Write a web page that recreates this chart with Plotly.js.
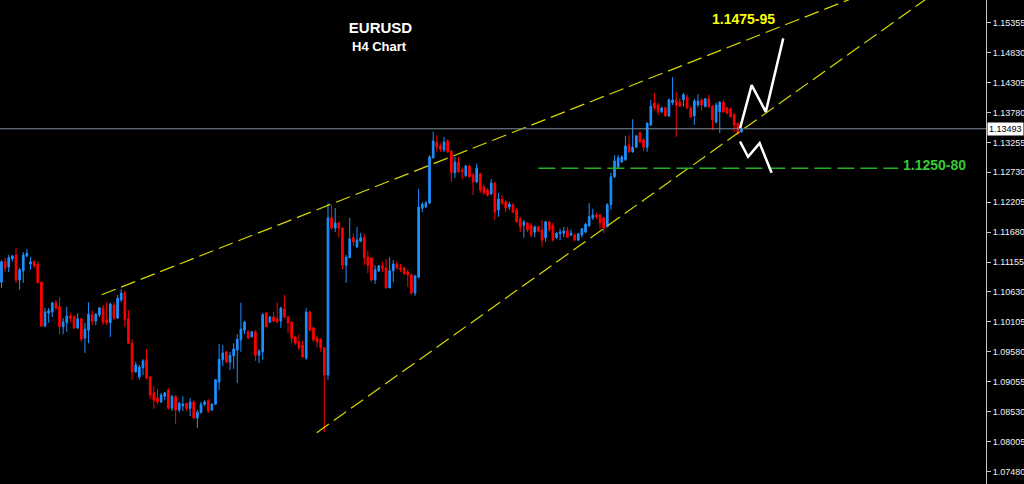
<!DOCTYPE html>
<html><head><meta charset="utf-8">
<script src="https://cdn.plot.ly/plotly-3.0.1.min.js"></script>
<style>html,body{margin:0;padding:0;background:#000;}#chart{width:1024px;height:484px;}</style>
</head><body><div id="chart"></div>
<script>
// EURUSD H4 candles
const open = [1.1080,1.1116,1.1107,1.1121,1.1128,1.1084,1.1100,1.1126,1.1112,1.1116,
1.1112,1.1080,1.1003,1.1026,1.1028,1.1044,1.1037,1.1002,1.1009,1.1021,
1.1019,1.1000,1.1016,1.0982,1.0996,1.1023,1.1012,1.1023,1.1035,1.1014,
1.1009,1.1040,1.1017,1.1049,1.1061,1.1016,1.0973,1.0923,1.0914,1.0930,
1.0944,1.0914,1.0886,1.0877,1.0870,1.0880,1.0891,1.0859,1.0879,1.0856,
1.0863,1.0868,1.0859,1.0870,1.0842,1.0851,1.0866,1.0872,1.0856,1.0866,
1.0905,1.0944,1.0958,1.0940,1.0951,1.0961,1.0979,1.0996,1.0993,1.0984,
1.0993,1.0952,1.0958,1.1026,1.1010,1.1019,1.1016,1.1012,1.1033,1.1019,
1.1010,1.0984,1.0975,1.0970,1.0947,1.1028,1.1000,1.0982,1.0980,1.0965,
1.0917,1.1193,1.1175,1.1184,1.1175,1.1110,1.1123,1.1158,1.1142,1.1152,
1.1158,1.1124,1.1123,1.1084,1.1100,1.1109,1.1105,1.1070,1.1100,1.1112,
1.1105,1.1105,1.1098,1.1093,1.1061,1.1089,1.1210,1.1212,1.1219,1.1298,
1.1326,1.1319,1.1312,1.1328,1.1310,1.1272,1.1291,1.1277,1.1267,1.1284,
1.1268,1.1256,1.1270,1.1247,1.1242,1.1235,1.1254,1.1207,1.1226,1.1221,
1.1212,1.1216,1.1207,1.1191,1.1180,1.1184,1.1180,1.1168,1.1177,1.1172,
1.1158,1.1186,1.1180,1.1158,1.1166,1.1166,1.1170,1.1163,1.1163,1.1154,
1.1163,1.1168,1.1179,1.1193,1.1198,1.1198,1.1193,1.1177,1.1216,1.1265,
1.1282,1.1291,1.1295,1.1321,1.1309,1.1317,1.1342,1.1330,1.1317,1.1356,
1.1395,1.1391,1.1379,1.1386,1.1372,1.1395,1.1400,1.1396,1.1400,1.1405,
1.1386,1.1372,1.1391,1.1400,1.1388,1.1402,1.1389,1.1361,1.1379,1.1396,
1.1386,1.1384,1.1374,1.1359,1.1344];
const high = [1.1119,1.1123,1.1128,1.1128,1.1140,1.1105,1.1133,1.1138,1.1124,1.1119,
1.1117,1.1080,1.1035,1.1035,1.1045,1.1049,1.1054,1.1017,1.1037,1.1026,
1.1023,1.1026,1.1017,1.1009,1.1045,1.1031,1.1026,1.1037,1.1040,1.1045,
1.1044,1.1045,1.1058,1.1068,1.1065,1.1031,1.0980,1.0940,1.0935,1.0945,
1.0963,1.0916,1.0898,1.0893,1.0886,1.0887,1.0894,1.0882,1.0882,1.0870,
1.0880,1.0868,1.0877,1.0873,1.0856,1.0870,1.0873,1.0875,1.0868,1.0910,
1.0972,1.0970,1.0959,1.0958,1.0973,1.0989,1.1044,1.1012,1.0996,1.0995,
1.0996,1.0963,1.1026,1.1028,1.1021,1.1028,1.1045,1.1037,1.1058,1.1021,
1.1012,1.0986,1.0989,1.0977,1.1035,1.1030,1.1002,1.0986,1.0982,1.0966,
1.1219,1.1216,1.1210,1.1186,1.1177,1.1128,1.1193,1.1166,1.1177,1.1166,
1.1165,1.1135,1.1123,1.1110,1.1110,1.1116,1.1121,1.1124,1.1119,1.1116,
1.1112,1.1107,1.1102,1.1095,1.1093,1.1244,1.1221,1.1223,1.1303,1.1344,
1.1338,1.1324,1.1335,1.1331,1.1312,1.1300,1.1300,1.1282,1.1286,1.1286,
1.1272,1.1288,1.1272,1.1251,1.1245,1.1261,1.1256,1.1237,1.1233,1.1224,
1.1221,1.1219,1.1210,1.1195,1.1189,1.1186,1.1184,1.1180,1.1179,1.1189,
1.1188,1.1188,1.1184,1.1168,1.1174,1.1177,1.1177,1.1172,1.1166,1.1166,
1.1175,1.1184,1.1219,1.1209,1.1202,1.1200,1.1195,1.1219,1.1272,1.1303,
1.1303,1.1303,1.1337,1.1338,1.1366,1.1338,1.1344,1.1333,1.1361,1.1400,
1.1412,1.1395,1.1388,1.1388,1.1403,1.1440,1.1414,1.1403,1.1412,1.1410,
1.1388,1.1402,1.1410,1.1403,1.1403,1.1409,1.1391,1.1395,1.1398,1.1400,
1.1388,1.1386,1.1377,1.1359,1.1351];
const low = [1.1070,1.1098,1.1098,1.1116,1.1079,1.1067,1.1079,1.1124,1.1102,1.1105,
1.1079,1.1003,1.1002,1.1009,1.1019,1.1031,1.0989,1.0989,1.0993,1.1010,
1.0998,1.0998,1.0975,1.0956,1.0973,1.1005,1.1005,1.1019,1.1005,1.1005,
1.0984,1.1014,1.1016,1.1045,1.1002,1.0972,1.0909,1.0921,1.0909,1.0917,
1.0909,1.0875,1.0858,1.0866,1.0868,1.0873,1.0858,1.0854,1.0831,1.0852,
1.0854,1.0854,1.0845,1.0840,1.0824,1.0850,1.0863,1.0851,1.0854,1.0865,
1.0891,1.0933,1.0938,1.0926,1.0928,1.0903,1.0958,1.0989,1.0980,1.0984,
1.0942,1.0938,1.0944,1.1002,1.1009,1.1010,1.1010,1.1000,1.1017,1.0991,
1.0973,1.0970,1.0961,1.0947,1.0944,1.0994,1.0975,1.0966,1.0958,1.0817,
1.0909,1.1172,1.1168,1.1159,1.1103,1.1079,1.1123,1.1144,1.1140,1.1151,
1.1110,1.1096,1.1081,1.1077,1.1098,1.1098,1.1070,1.1070,1.1080,1.1102,
1.1098,1.1093,1.1072,1.1058,1.1056,1.1087,1.1203,1.1210,1.1217,1.1298,
1.1309,1.1309,1.1309,1.1307,1.1256,1.1263,1.1272,1.1261,1.1265,1.1263,
1.1233,1.1254,1.1237,1.1233,1.1230,1.1233,1.1189,1.1195,1.1216,1.1203,
1.1207,1.1202,1.1184,1.1168,1.1158,1.1168,1.1159,1.1159,1.1168,1.1142,
1.1151,1.1168,1.1151,1.1156,1.1154,1.1159,1.1158,1.1161,1.1152,1.1152,
1.1159,1.1166,1.1177,1.1189,1.1191,1.1174,1.1166,1.1177,1.1207,1.1263,
1.1280,1.1289,1.1293,1.1307,1.1307,1.1316,1.1324,1.1310,1.1309,1.1354,
1.1382,1.1374,1.1377,1.1370,1.1370,1.1391,1.1335,1.1388,1.1388,1.1384,
1.1368,1.1356,1.1388,1.1381,1.1388,1.1386,1.1347,1.1359,1.1342,1.1377,
1.1375,1.1370,1.1344,1.1338,1.1342];
const close = [1.1116,1.1105,1.1123,1.1126,1.1084,1.1102,1.1128,1.1131,1.1116,1.1109,
1.1079,1.1003,1.1028,1.1030,1.1044,1.1035,1.1002,1.1010,1.1021,1.1017,
1.1000,1.1016,1.0980,1.0998,1.1024,1.1012,1.1024,1.1035,1.1010,1.1009,
1.1042,1.1017,1.1052,1.1061,1.1014,1.0973,1.0923,1.0935,1.0931,1.0942,
1.0912,1.0882,1.0873,1.0870,1.0882,1.0886,1.0859,1.0880,1.0856,1.0868,
1.0866,1.0859,1.0870,1.0842,1.0852,1.0866,1.0870,1.0854,1.0866,1.0909,
1.0945,1.0956,1.0940,1.0952,1.0963,1.0980,1.0998,1.1010,1.0982,1.0993,
1.0952,1.0959,1.1023,1.1002,1.1019,1.1012,1.1010,1.1035,1.1019,1.1009,
1.0982,1.0973,1.0965,1.0949,1.1028,1.0996,1.0979,1.0975,1.0965,1.0917,
1.1193,1.1175,1.1184,1.1175,1.1110,1.1124,1.1156,1.1151,1.1154,1.1158,
1.1123,1.1110,1.1084,1.1102,1.1109,1.1105,1.1070,1.1100,1.1112,1.1105,
1.1102,1.1095,1.1093,1.1061,1.1091,1.1212,1.1217,1.1219,1.1300,1.1328,
1.1317,1.1314,1.1326,1.1309,1.1272,1.1291,1.1274,1.1274,1.1284,1.1265,
1.1256,1.1280,1.1242,1.1237,1.1233,1.1254,1.1203,1.1226,1.1219,1.1210,
1.1217,1.1203,1.1186,1.1177,1.1186,1.1172,1.1163,1.1177,1.1170,1.1154,
1.1186,1.1172,1.1154,1.1166,1.1168,1.1170,1.1159,1.1166,1.1154,1.1165,
1.1174,1.1182,1.1195,1.1198,1.1195,1.1184,1.1175,1.1216,1.1265,1.1293,
1.1298,1.1300,1.1319,1.1309,1.1317,1.1337,1.1326,1.1317,1.1359,1.1389,
1.1386,1.1379,1.1386,1.1372,1.1400,1.1400,1.1391,1.1389,1.1409,1.1386,
1.1370,1.1398,1.1398,1.1391,1.1402,1.1388,1.1365,1.1391,1.1396,1.1379,
1.1377,1.1370,1.1356,1.1342,1.13493];

// price scale tick labels
const priceTicks = [1.07480,1.08005,1.08530,1.09055,1.09580,1.10105,1.10630,1.11155,
  1.11680,1.12205,1.12730,1.13255,1.13780,1.14305,1.14830,1.15355];
const lastPrice = 1.13493;

// drawn objects (bar index, price)
const upperTrendX = [27.6, 240];
const upperTrendY = [1.1058, 1.1592];
const lowerTrendX = [86.9, 260];
const lowerTrendY = [1.0816, 1.1600];
const targetLevelX = [148.0, 247.2];
const targetLevelY = [1.1280, 1.1280];
const upPathX = [203.6, 206.8, 210.7, 215.5];
const upPathY = [1.1350, 1.1426, 1.1379, 1.1508];
const downPathX = [203.6, 205.8, 209.0, 212.3];
const downPathY = [1.1327, 1.1300, 1.1324, 1.1272];
const upLabel = {text: '1.1475-95', x: 204.5, y: 1.15425};
const downLabel = {text: '1.1250-80', x: 257.1, y: 1.12858};

const bars = open.map((_, i) => i);

const traces = [
  {type: 'candlestick', x: bars, open: open, high: high, low: low, close: close,
   increasing: {line: {color: '#1E90FF', width: 1}, fillcolor: '#1E90FF'},
   decreasing: {line: {color: '#FF0000', width: 1}, fillcolor: '#FF0000'},
   whiskerwidth: 0, showlegend: false, hoverinfo: 'skip'},
  {type: 'scatter', mode: 'lines', x: upperTrendX, y: upperTrendY,
   line: {color: '#d8d800', width: 1.2, dash: '15px,6px'}, showlegend: false, hoverinfo: 'skip'},
  {type: 'scatter', mode: 'lines', x: lowerTrendX, y: lowerTrendY,
   line: {color: '#d8d800', width: 1.2, dash: '15px,6px'}, showlegend: false, hoverinfo: 'skip'},
  {type: 'scatter', mode: 'lines', x: targetLevelX, y: targetLevelY,
   line: {color: '#22b022', width: 1.5, dash: '17px,6px'}, showlegend: false, hoverinfo: 'skip'},
  {type: 'scatter', mode: 'lines', x: upPathX, y: upPathY,
   line: {color: '#ffffff', width: 2.5}, showlegend: false, hoverinfo: 'skip'},
  {type: 'scatter', mode: 'lines', x: downPathX, y: downPathY,
   line: {color: '#ffffff', width: 2.5}, showlegend: false, hoverinfo: 'skip'}
];

const layout = {
  width: 1024, height: 484,
  paper_bgcolor: '#000000', plot_bgcolor: '#000000',
  margin: {l: 0, r: 38, t: 0, b: 0, pad: 0},
  showlegend: false,
  boxgap: 0.35,
  title: {text: '<b>EURUSD</b>', font: {family: 'Liberation Sans, Arial, sans-serif', size: 15, color: '#ffffff'},
          x: 0.3716, xanchor: 'center', xref: 'container', y: 0.943, yanchor: 'middle', yref: 'container'},
  xaxis: {range: [-0.41, 271.4], visible: false, rangeslider: {visible: false}, fixedrange: true},
  yaxis: {range: [1.0726, 1.15753], side: 'right', tickvals: priceTicks, tickformat: '.5f',
          ticks: 'outside', ticklen: 4, tickcolor: '#c8c8c8', showline: true, linecolor: '#c8c8c8', linewidth: 1,
          showgrid: false, zeroline: false, fixedrange: true,
          tickfont: {family: 'Liberation Sans, Arial, sans-serif', size: 9, color: '#f0f0f0'}},
  shapes: [
    {type: 'line', xref: 'paper', x0: 0, x1: 1, yref: 'y', y0: lastPrice, y1: lastPrice,
     line: {color: '#7f8e9c', width: 1}}
  ],
  annotations: [
    {text: '<b>H4 Chart</b>', xref: 'paper', yref: 'paper', x: 0.3844, y: 0.9029, xanchor: 'center', yanchor: 'middle',
     showarrow: false, font: {family: 'Liberation Sans, Arial, sans-serif', size: 13, color: '#ffffff'}},
    {text: '<b>' + upLabel.text + '</b>', xref: 'x', yref: 'y', x: upLabel.x, y: upLabel.y, xanchor: 'center', yanchor: 'middle',
     showarrow: false, font: {family: 'Liberation Sans, Arial, sans-serif', size: 14, color: '#ffff00'}},
    {text: '<b>' + downLabel.text + '</b>', xref: 'x', yref: 'y', x: downLabel.x, y: downLabel.y, xanchor: 'center', yanchor: 'middle',
     showarrow: false, font: {family: 'Liberation Sans, Arial, sans-serif', size: 14, color: '#33cc33'}},
    {text: lastPrice.toFixed(5), xref: 'paper', yref: 'y', x: 1, y: lastPrice, xanchor: 'left', yanchor: 'middle', xshift: 1,
     showarrow: false, bgcolor: '#ffffff', borderpad: 1,
     font: {family: 'Liberation Sans, Arial, sans-serif', size: 9, color: '#000000'}}
  ]
};

Plotly.newPlot('chart', traces, layout, {staticPlot: true, displayModeBar: false});
</script>
</body></html>
